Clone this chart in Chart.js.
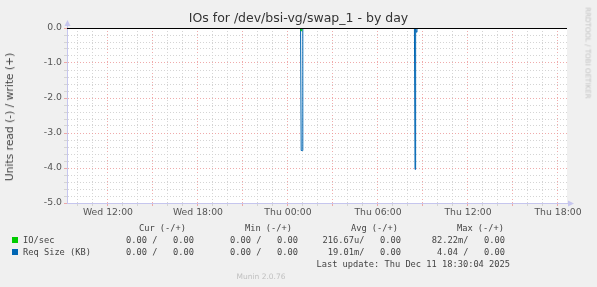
<!DOCTYPE html>
<html>
<head>
<meta charset="utf-8">
<script src="https://cdn.jsdelivr.net/npm/chart.js@4/dist/chart.umd.min.js"></script>
<style>
  html, body { margin:0; padding:0; background:#f0f0f0; }
  #wrap { position:relative; width:597px; height:287px; overflow:hidden; }
  canvas { position:absolute; left:0; top:0; }
  .t { position:absolute; white-space:nowrap; font-family:'DejaVu Sans', sans-serif; }
  .m { position:absolute; white-space:pre; font-family:'DejaVu Sans Mono', monospace; font-size:8.7px; line-height:10px; color:#444; }
  .sq { position:absolute; width:6px; height:6px; }
</style>
</head>
<body>
<div id="wrap">
<canvas id="c" width="597" height="287"></canvas>
<div class="t" style="left:0;width:597px;top:10px;text-align:center;font-size:12.5px;line-height:16px;color:#333;">IOs for /dev/bsi-vg/swap_1 - by day</div>
<div class="t" style="left:10px;top:117px;width:0;height:0;"><div style="position:absolute;left:0;top:0;transform:translate(-50%,-50%) rotate(-90deg);font-size:10.7px;line-height:12px;color:#444;">Units read (-) / write (+)</div></div>
<div class="t" style="left:588px;top:53px;width:0;height:0;"><div style="position:absolute;left:0;top:0;transform:translate(-50%,-50%) rotate(90deg);font-size:7.1px;line-height:9px;color:#c4c4c4;">RRDTOOL / TOBI OETIKER</div></div>
<div id="legend"></div>
<div class="t" style="left:261px;top:277px;width:0;height:0;"><div style="position:absolute;left:0;top:0;transform:translate(-50%,-50%);font-size:7.5px;line-height:10px;color:#c0c0c0;">Munin 2.0.76</div></div>
</div>
<script>
// ---- data (hours since Wed 00:00) ----
const xMinHour = 9.27;
const xMaxHour = 42.6;
const xTickHours = [12, 18, 24, 30, 36, 42];
const xTickLabels = ['Wed 12:00', 'Wed 18:00', 'Thu 00:00', 'Thu 06:00', 'Thu 12:00', 'Thu 18:00'];
const yTickValues = [0, -1, -2, -3, -4, -5];
const yTickLabels = ['0.0', '-1.0', '-2.0', '-3.0', '-4.0', '-5.0'];

// IO/sec, read side (negative)
const ioTimes = [9.27, 24.84, 24.88, 24.92, 42.6];
const ioRead  = [0, 0, -0.082, 0, 0];
// Req Size (KB), read side (negative)
const reqTimes = [9.27, 24.84, 24.88, 24.95, 24.99, 32.43, 32.47, 32.51, 32.56, 32.6, 42.6];
const reqRead  = [0, 0, -3.5, -3.5, 0, 0, -4.04, 0, -0.12, 0, 0];

const legendHeaders = ['Cur (-/+)', 'Min (-/+)', 'Avg (-/+)', 'Max (-/+)'];
const legendRows = [
  { name: 'IO/sec', color: '#00cc00', vals: ['0.00 /   0.00', '0.00 /   0.00', '216.67u/   0.00', '82.22m/   0.00'] },
  { name: 'Req Size (KB)', color: '#0066b3', vals: ['0.00 /   0.00', '0.00 /   0.00', '19.01m/   0.00', '4.04 /   0.00'] }
];
const lastUpdate = 'Last update: Thu Dec 11 18:30:04 2025';

// ---- styles ----
const RED = 'rgba(236,150,150,0.8)';
const GRAY = 'rgba(212,212,212,1)';
const AXIS = '#c6c6ee';
const TICKFONT = { family: 'DejaVu Sans', size: 9.3 };

function pts(ts, vs) { return ts.map((t, i) => ({ x: t, y: vs[i] })); }

const xGrid = [];
for (let h = Math.ceil(xMinHour); h <= Math.floor(xMaxHour); h++) xGrid.push(h);
const yGrid = [];
for (let k = -25; k <= 0; k++) yGrid.push(k / 5);

const bgPlugin = {
  id: 'bg',
  beforeDraw(chart) {
    const { ctx, chartArea: a } = chart;
    ctx.save();
    ctx.fillStyle = '#f0f0f0';
    ctx.fillRect(0, 0, chart.width, chart.height);
    ctx.fillStyle = '#ffffff';
    ctx.fillRect(a.left, a.top, a.right - a.left, a.bottom - a.top);
    ctx.restore();
  },
  afterDatasetsDraw(chart) {
    const { ctx, chartArea: a, scales } = chart;
    const y0 = Math.round(scales.y.getPixelForValue(0)) + 0.5;
    ctx.save();
    ctx.strokeStyle = '#000000';
    ctx.lineWidth = 1;
    ctx.beginPath();
    ctx.moveTo(a.left, y0);
    ctx.lineTo(a.right, y0);
    ctx.stroke();
    // axis arrows
    ctx.fillStyle = AXIS;
    const xl = Math.round(a.left) + 0.5;
    ctx.beginPath();
    ctx.moveTo(xl - 3, a.top - 2);
    ctx.lineTo(xl + 3, a.top - 2);
    ctx.lineTo(xl, a.top - 8);
    ctx.closePath();
    ctx.fill();
    ctx.strokeStyle = AXIS;
    ctx.beginPath(); ctx.moveTo(xl, a.top - 2); ctx.lineTo(xl, a.top); ctx.stroke();
    const yb = Math.round(a.bottom) + 0.5;
    ctx.beginPath();
    ctx.moveTo(a.right + 1, yb - 3);
    ctx.lineTo(a.right + 1, yb + 3);
    ctx.lineTo(a.right + 7, yb);
    ctx.closePath();
    ctx.fill();
    ctx.restore();
  }
};

new Chart(document.getElementById('c'), {
  type: 'line',
  data: {
    datasets: [
      { label: 'IO/sec', data: pts(ioTimes, ioRead), borderColor: '#00cc00', borderWidth: 1, pointRadius: 0, tension: 0, fill: false },
      { label: 'Req Size (KB)', data: pts(reqTimes, reqRead), borderColor: '#0066b3', borderWidth: 1, pointRadius: 0, tension: 0, fill: false }
    ]
  },
  options: {
    responsive: false,
    animation: false,
    devicePixelRatio: 1,
    layout: { padding: { left: 0, top: 28, right: 30, bottom: 0 } },
    plugins: { legend: { display: false }, tooltip: { enabled: false }, title: { display: false } },
    scales: {
      x: {
        type: 'linear',
        min: xMinHour,
        max: xMaxHour,
        afterFit(s) { s.height = 84; },
        afterBuildTicks(s) { s.ticks = xGrid.map(v => ({ value: v })); },
        ticks: {
          autoSkip: false, maxRotation: 0, minRotation: 0, padding: 1,
          font: TICKFONT, color: '#555',
          callback(v) { const i = xTickHours.indexOf(v); return i >= 0 ? xTickLabels[i] : ''; }
        },
        grid: {
          color: ctx => (ctx.tick && ctx.tick.value % 3 === 0) ? RED : GRAY,
          tickColor: ctx => (ctx.tick && ctx.tick.value % 3 === 0) ? RED : GRAY,
          tickLength: 3, lineWidth: 1
        },
        border: { color: AXIS, width: 1, dash: [1, 2] }
      },
      y: {
        type: 'linear',
        min: -5,
        max: 0,
        afterFit(s) { s.width = 67; },
        afterBuildTicks(s) { s.ticks = yGrid.map(v => ({ value: v })); },
        ticks: {
          autoSkip: false, padding: 2, font: TICKFONT, color: '#555',
          callback(v) {
            const i = yTickValues.findIndex(t => Math.abs(t - v) < 1e-6);
            return i >= 0 ? yTickLabels[i] : '';
          }
        },
        grid: {
          color: ctx => (ctx.tick && Math.abs(ctx.tick.value - Math.round(ctx.tick.value)) < 1e-6) ? RED : GRAY,
          tickColor: ctx => (ctx.tick && Math.abs(ctx.tick.value - Math.round(ctx.tick.value)) < 1e-6) ? RED : GRAY,
          tickLength: 3, lineWidth: 1
        },
        border: { color: AXIS, width: 1, dash: [1, 2] }
      }
    }
  },
  plugins: [bgPlugin]
});

// ---- legend (HTML text) ----
const L = document.getElementById('legend');
const colRight = [194, 298, 401, 505];
const headRight = [186, 292, 398, 504];
function addText(txt, rightX, centerY, leftX) {
  const d = document.createElement('div');
  d.className = 'm';
  d.textContent = txt;
  d.style.top = (centerY - 5) + 'px';
  if (leftX !== undefined) { d.style.left = leftX + 'px'; }
  else { d.style.right = (597 - rightX) + 'px'; }
  L.appendChild(d);
}
legendHeaders.forEach((h, i) => addText(h, headRight[i], 228));
legendRows.forEach((r, j) => {
  const cy = 240 + j * 12;
  const sq = document.createElement('div');
  sq.className = 'sq';
  sq.style.background = r.color;
  sq.style.left = '12px';
  sq.style.top = (cy - 3) + 'px';
  L.appendChild(sq);
  addText(r.name, 0, cy, 23);
  r.vals.forEach((v, i) => addText(v, colRight[i], cy));
});
addText(lastUpdate, 510, 264);
</script>
</body>
</html>
